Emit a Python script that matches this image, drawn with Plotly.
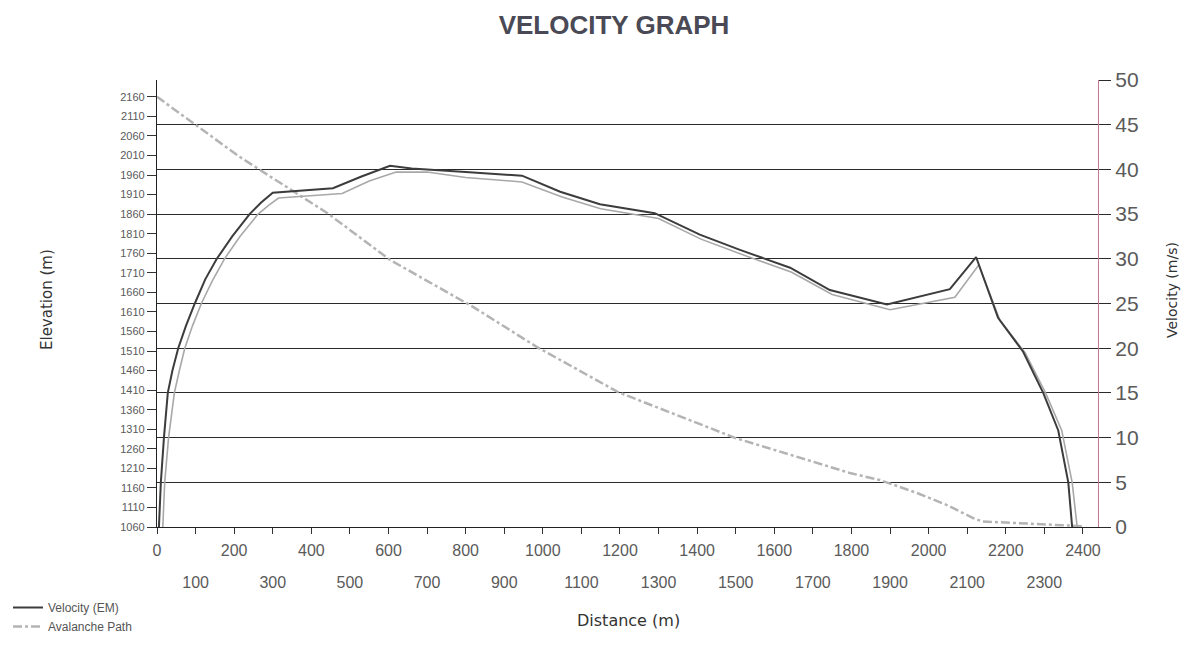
import plotly.graph_objects as go

# ---- data ----
dist_em = [5, 10, 18, 28, 40, 55, 75, 98, 125, 155, 195, 240, 270, 300, 456, 530, 604, 660,
           800, 946, 1045, 1148, 1290, 1407, 1511, 1641, 1744, 1892, 2055, 2123, 2180, 2245,
           2297, 2336, 2362, 2372]
vel_em = [0, 5, 10, 15, 17.5, 20, 22.5, 25, 27.7, 30, 32.5, 35, 36.3, 37.4, 37.9, 39.2, 40.4, 40.1,
          39.7, 39.3, 37.5, 36.1, 35.1, 32.7, 31.0, 29.0, 26.5, 24.9, 26.6, 30.2, 23.4, 19.6,
          15.0, 10.8, 5.0, 0]

dist_shadow = [15, 20, 30, 45, 58, 72, 92, 115, 143, 175, 215, 262, 290, 315, 480, 550, 620, 700,
               800, 946, 1050, 1150, 1300, 1410, 1515, 1645, 1750, 1900, 2068, 2130, 2185, 2250,
               2303, 2345, 2372, 2385]
vel_shadow = [0, 5, 10, 15, 17.5, 20, 22.5, 25, 27.5, 30, 32.5, 35, 36.0, 36.8, 37.3, 38.7, 39.7, 39.7,
              39.1, 38.6, 36.9, 35.6, 34.5, 32.2, 30.5, 28.5, 26.0, 24.3, 25.7, 29.3, 23.1, 19.5,
              15.0, 10.8, 5.0, 0]

path_dist = [0, 215, 441, 604, 819, 985, 1195, 1498, 1796, 1874, 1970, 2050, 2115, 2140, 2229, 2300, 2400]
path_elev = [2160, 2006, 1863, 1743, 1623, 1520, 1405, 1288, 1198, 1180, 1147, 1115, 1083, 1074, 1070, 1066, 1062]

x_ticks = list(range(0, 2401, 100))
x_ticks_odd = [v for v in x_ticks if (v // 100) % 2 == 1]
x_tick_text = [str(v) if (v // 100) % 2 == 0 else "" for v in x_ticks]
elev_ticks = list(range(1060, 2161, 50))
vel_ticks = list(range(0, 51, 5))

X_RANGE = [0, 2439]

# page body has an 8px margin: figure origin sits at (8, 8)
W, H = 1181, 634

fig = go.Figure()

fig.add_trace(go.Scatter(
    x=dist_shadow, y=vel_shadow, yaxis="y2", mode="lines",
    line=dict(color="#a8a8a8", width=1.6), showlegend=False, hoverinfo="skip"))
fig.add_trace(go.Scatter(
    x=dist_em, y=vel_em, yaxis="y2", mode="lines", name="Velocity (EM)",
    line=dict(color="#3c3c3c", width=2)))
fig.add_trace(go.Scatter(
    x=path_dist, y=path_elev, yaxis="y", mode="lines", name="Avalanche Path",
    line=dict(color="#b4b4b4", width=2.5, dash="9px,3px,3px,3px")))
# empty trace that carries the second row of distance labels
fig.add_trace(go.Scatter(x=[], y=[], xaxis="x2", yaxis="y", showlegend=False, hoverinfo="skip"))

tick_font = dict(family="Liberation Sans, Arial, sans-serif", color="#5a5a5a")
title_font = dict(family="DejaVu Sans, sans-serif", size=15, color="#333")

fig.update_layout(
    width=W, height=H,
    margin=dict(l=149, r=W + 8 - 1098, t=72, b=H + 8 - 527),
    paper_bgcolor="white", plot_bgcolor="white",
    title=dict(text="<b>VELOCITY GRAPH</b>", x=(614 - 8) / W, xref="container", xanchor="center",
               y=1 - (25 - 8) / H, yref="container", yanchor="middle",
               font=dict(family="Liberation Sans, Arial, sans-serif", size=26, color="#4a4a56")),
    xaxis=dict(range=X_RANGE, tickvals=x_ticks, ticktext=x_tick_text,
               showgrid=False, zeroline=False, showline=True, linecolor="#222", linewidth=1.2,
               ticks="outside", ticklen=6, tickcolor="#333", tickangle=0, ticklabelstandoff=3,
               tickfont=dict(size=16, **tick_font), automargin=False),
    xaxis2=dict(range=X_RANGE, tickvals=x_ticks_odd, overlaying="x", anchor="y", side="bottom",
                showgrid=False, zeroline=False, showline=False,
                ticks="outside", ticklen=6, tickcolor="rgba(0,0,0,0)", tickangle=0,
                ticklabelstandoff=35,
                tickfont=dict(size=16, **tick_font), automargin=False),
    yaxis=dict(range=[1060, 2203], tickvals=elev_ticks,
               showgrid=False, zeroline=False, showline=True, linecolor="#222", linewidth=1.2,
               ticks="outside", ticklen=9, tickcolor="#333",
               tickfont=dict(size=11, **tick_font), automargin=False),
    yaxis2=dict(range=[0, 50], tickvals=vel_ticks, overlaying="y", side="right",
                showgrid=True, gridcolor="#2a2a2a", gridwidth=1.2, zeroline=False,
                showline=True, linecolor="#c47890", linewidth=1.2,
                ticks="outside", ticklen=12, tickcolor="#2a2a2a",
                tickfont=dict(size=21, **tick_font), automargin=False),
    legend=dict(x=0.0, xref="container", xanchor="left", y=1 - (593 - 8) / H, yref="container",
                yanchor="top", orientation="v", tracegroupgap=0, itemwidth=30,
                font=dict(family="Liberation Sans, Arial, sans-serif", size=12, color="#555"),
                bgcolor="rgba(0,0,0,0)"),
    showlegend=True,
    annotations=[
        dict(text="Elevation (m)", xref="paper", yref="paper", x=(47 - 157) / 941, y=(527 - 300) / 447,
             textangle=-90, showarrow=False, font=title_font, xanchor="center", yanchor="middle"),
        dict(text="Velocity (m/s)", xref="paper", yref="paper", x=(1172 - 157) / 941, y=(527 - 290) / 447,
             textangle=-90, showarrow=False, font=dict(family="DejaVu Sans, sans-serif", size=14, color="#333"),
             xanchor="center", yanchor="middle"),
        dict(text="Distance (m)", xref="paper", yref="paper", x=(628 - 157) / 941, y=(527 - 620) / 447,
             showarrow=False, font=dict(family="DejaVu Sans, sans-serif", size=16, color="#333"),
             xanchor="center", yanchor="middle"),
    ],
)

fig.write_html("out.html")
